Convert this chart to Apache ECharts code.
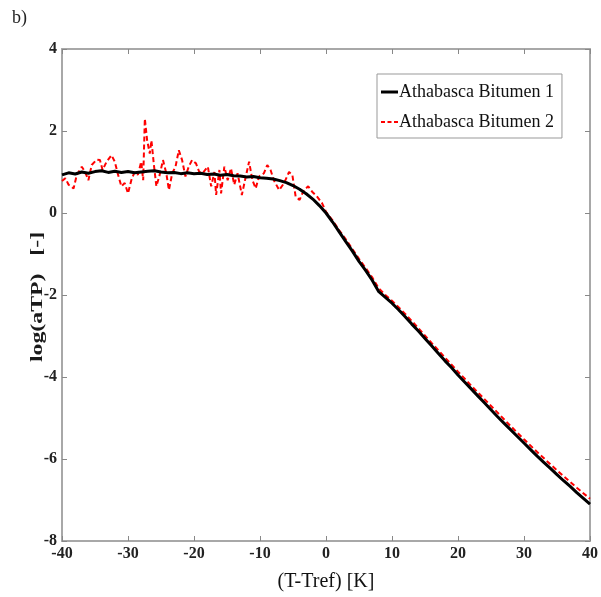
<!DOCTYPE html>
<html>
<head>
<meta charset="utf-8">
<script src="https://cdn.jsdelivr.net/npm/echarts@6/dist/echarts.min.js"></script>
<style>html,body{margin:0;padding:0;background:#fff;}#c{width:601px;height:597px;}</style>
</head>
<body>
<div id="c"></div>
<script>
// Athabasca Bitumen 1 (solid black)
var tempB = [-40,-39,-38,-37,-36,-35,-34,-33,-32,-31,-30,-29,-28,-27,-26,-25,-24,-23,-22,-21,-20,-19,-18,-17,-16,-15,-14,-13,-12,-11,-10,-9,-8,-7,-6,-5,-4,-3,-2,-1,0,1,2,3,4,5,6,7,8,9,10,11,12,13,14,15,16,17,18,19,20,21,22,23,24,25,26,27,28,29,30,31,32,33,34,35,36,37,38,39,40];
var logB = [0.93,0.98,0.95,1.0,0.97,1.01,1.03,0.99,1.02,0.99,1.01,0.98,1.0,1.02,1.03,1.0,0.98,0.99,0.96,0.98,0.96,0.97,0.94,0.95,0.92,0.94,0.91,0.9,0.88,0.89,0.86,0.85,0.83,0.79,0.74,0.67,0.58,0.47,0.34,0.18,0.0,-0.22,-0.46,-0.7,-0.93,-1.18,-1.4,-1.64,-1.92,-2.06,-2.2,-2.36,-2.53,-2.71,-2.88,-3.06,-3.24,-3.42,-3.6,-3.77,-3.95,-4.12,-4.29,-4.46,-4.63,-4.8,-4.97,-5.13,-5.29,-5.45,-5.61,-5.77,-5.93,-6.08,-6.23,-6.38,-6.53,-6.67,-6.82,-6.96,-7.1];
// Athabasca Bitumen 2 (dashed red)
var tempR = [-40,-39.5,-39,-38.25,-37.75,-37,-36.5,-36,-35.5,-34.75,-34.25,-33.85,-33.25,-32.5,-32,-31.5,-31,-30.5,-30,-29.5,-29,-28.5,-28,-27.7,-27.45,-27.1,-26.7,-26.45,-26.1,-25.7,-25.2,-24.7,-24.2,-23.8,-23.3,-22.8,-22.3,-21.8,-21.3,-20.8,-20.3,-19.7,-19.2,-18.7,-17.9,-17.4,-16.9,-16.65,-16.15,-15.9,-15.4,-14.9,-14.4,-13.9,-13.4,-12.75,-12.15,-11.65,-11.15,-10.65,-10.15,-9.4,-8.9,-8.4,-7.9,-7.1,-6.35,-5.6,-5.1,-4.6,-4,-3.35,-2.7,-2.1,-1.35,-0.6,0,1,2,3,4,5,6,7,8,9,10,12,14,16,18,20,22,24,26,28,30,32,34,36,38,40];
var logR = [0.78,0.85,0.69,0.6,0.93,1.13,1.0,0.8,1.17,1.3,1.29,1.05,1.25,1.41,1.25,0.93,0.65,0.73,0.48,0.8,1.0,0.93,1.25,0.8,2.3,1.77,1.45,1.77,1.21,0.65,0.93,1.29,0.97,0.56,0.97,1.13,1.53,1.29,0.89,1.13,1.29,1.21,1.0,0.97,1.13,0.65,1.0,0.44,1.05,0.48,1.13,0.8,1.09,0.69,0.97,0.44,0.89,1.25,0.8,0.6,0.89,0.97,1.17,1.05,0.8,0.56,0.73,1.0,0.93,0.4,0.32,0.56,0.65,0.52,0.4,0.24,0.03,-0.18,-0.42,-0.64,-0.88,-1.12,-1.34,-1.57,-1.84,-2.0,-2.14,-2.46,-2.81,-3.17,-3.52,-3.87,-4.21,-4.54,-4.87,-5.2,-5.52,-5.83,-6.13,-6.42,-6.7,-6.97];

var xTicks = {min:-40, max:40, interval:10};
var yTicks = {min:-8, max:4, interval:2};

function zip(a,b){var o=[];for(var i=0;i<a.length;i++)o.push([a[i],b[i]]);return o;}

var chart = echarts.init(document.getElementById('c'));
var axisLineStyle = {color:'#a8a8a8', width:2};
var tickStyle = {show:true, inside:true, length:5, lineStyle:{color:'#888', width:1}};
var lblFont = {fontFamily:'Liberation Serif', fontWeight:'bold', fontSize:16, color:'#222'};
chart.setOption({
  animation:false,
  backgroundColor:'#fff',
  graphic:[
    {type:'text', left:12, top:9, style:{text:'b)', font:'18px "Liberation Serif"', fill:'#222'}},
    {type:'text', x:38, y:297, rotation:Math.PI/2, scaleX:1.4, scaleY:1,
     style:{text:'log(aTP)   [-]', font:'bold 17px "Liberation Serif"', fill:'#1a1a1a', align:'center', verticalAlign:'middle'}}
  ],
  grid:{left:62, top:49, width:531, height:494, containLabel:false},
  legend:{
    orient:'vertical', left:377, top:74, width:187,
    padding:[8,8,6,4], itemGap:10, itemWidth:17, itemHeight:14,
    borderColor:'#999', borderWidth:1, backgroundColor:'#fff',
    textStyle:{fontFamily:'Liberation Serif', fontSize:18, color:'#111', lineHeight:20, padding:[0,0,0,-4]},
    data:[
      {name:'Athabasca Bitumen 1', icon:'path://M0,0L17,0L17,3L0,3Z'},
      {name:'Athabasca Bitumen 2', icon:'path://M0,0h4v2h-4z M6.5,0h4v2h-4z M13,0h4v2h-4z'}
    ]
  },
  xAxis:[{
    type:'value', min:xTicks.min, max:xTicks.max, interval:xTicks.interval,
    name:'(T-Tref) [K]', nameLocation:'middle', nameGap:31,
    nameTextStyle:{fontFamily:'Liberation Serif', fontSize:20, color:'#111'},
    axisLine:{show:true, onZero:false, lineStyle:axisLineStyle},
    axisTick:tickStyle, splitLine:{show:false},
    axisLabel:Object.assign({margin:5}, lblFont)
  },{
    type:'value', position:'top', min:xTicks.min, max:xTicks.max, interval:xTicks.interval,
    axisLine:{show:true, onZero:false, lineStyle:axisLineStyle},
    axisTick:tickStyle, splitLine:{show:false}, axisLabel:{show:false}
  }],
  yAxis:[{
    type:'value', min:yTicks.min, max:yTicks.max, interval:yTicks.interval,
    axisLine:{show:true, onZero:false, lineStyle:axisLineStyle},
    axisTick:tickStyle, splitLine:{show:false},
    axisLabel:Object.assign({margin:5}, lblFont)
  },{
    type:'value', position:'right', min:yTicks.min, max:yTicks.max, interval:yTicks.interval,
    axisLine:{show:true, onZero:false, lineStyle:axisLineStyle},
    axisTick:tickStyle, splitLine:{show:false}, axisLabel:{show:false}
  }],
  series:[{
    name:'Athabasca Bitumen 1', type:'line', showSymbol:false, symbol:'none',
    data:zip(tempB, logB), lineStyle:{color:'#000', width:3}, itemStyle:{color:'#000'}, z:3
  },{
    name:'Athabasca Bitumen 2', type:'line', showSymbol:false, symbol:'none',
    data:zip(tempR, logR), lineStyle:{color:'#ff0000', width:2, type:[5,3]}, itemStyle:{color:'#ff0000'}, z:2
  }]
});
</script>
</body>
</html>
